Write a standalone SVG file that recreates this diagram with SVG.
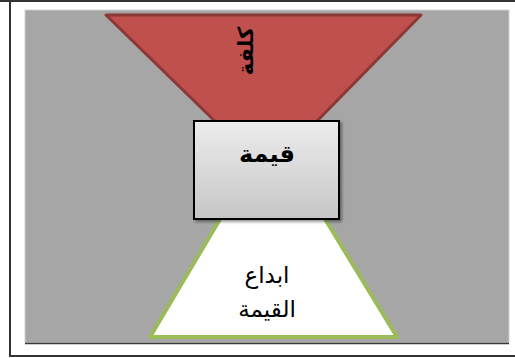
<svg xmlns="http://www.w3.org/2000/svg" width="515" height="358" viewBox="0 0 515 358">
<defs>
<linearGradient id="boxg" x1="0" y1="0" x2="0" y2="1">
<stop offset="0" stop-color="#EDEDED"/>
<stop offset="1" stop-color="#C6C6C6"/>
</linearGradient>
<filter id="sh" x="-10%" y="-10%" width="130%" height="130%">
<feGaussianBlur in="SourceAlpha" stdDeviation="1.5"/>
<feOffset dx="2" dy="2" result="b"/>
<feComponentTransfer><feFuncA type="linear" slope="0.4"/></feComponentTransfer>
<feMerge><feMergeNode/><feMergeNode in="SourceGraphic"/></feMerge>
</filter>
</defs>
<style>
.ar{font-family:"DejaVu Sans","Noto Sans",sans-serif;fill:#000;text-anchor:middle}
.b{font-weight:bold}
</style>
<rect x="0" y="0" width="515" height="358" fill="#fff"/>
<g id="frame" fill="none" stroke="#333" stroke-width="2">
<path d="M0 1 H515"/>
<path d="M10 1 V356 H515"/>
</g>
<g id="background">
<rect x="25" y="10" width="484" height="333" fill="#A6A6A6" stroke="#CFCFCF" stroke-width="1"/>
<path d="M25 343.5 H509" stroke="#3a3a3a" stroke-width="1.5"/>
</g>
<g id="cost">
<polygon points="106,15 421,15 267,172" fill="#C0504D" stroke="#8C3836" stroke-width="3" stroke-linejoin="round"/>
<text class="ar b" font-size="21" transform="translate(253,51) rotate(-90)">كلفة</text>
</g>
<g id="creation">
<polygon points="223,214 322,214 397,337 150,337" fill="#FFFFFF" stroke="#9BBB59" stroke-width="4" stroke-linejoin="round"/>
<text class="ar" font-size="23" x="267" y="283">ابداع</text>
<text class="ar" font-size="23" x="267" y="317">القيمة</text>
</g>
<g id="value">
<rect x="194" y="121" width="145" height="98" fill="url(#boxg)" stroke="#000" stroke-width="2" filter="url(#sh)"/>
<text class="ar b" font-size="24" x="267" y="162">قيمة</text>
</g>
</svg>
